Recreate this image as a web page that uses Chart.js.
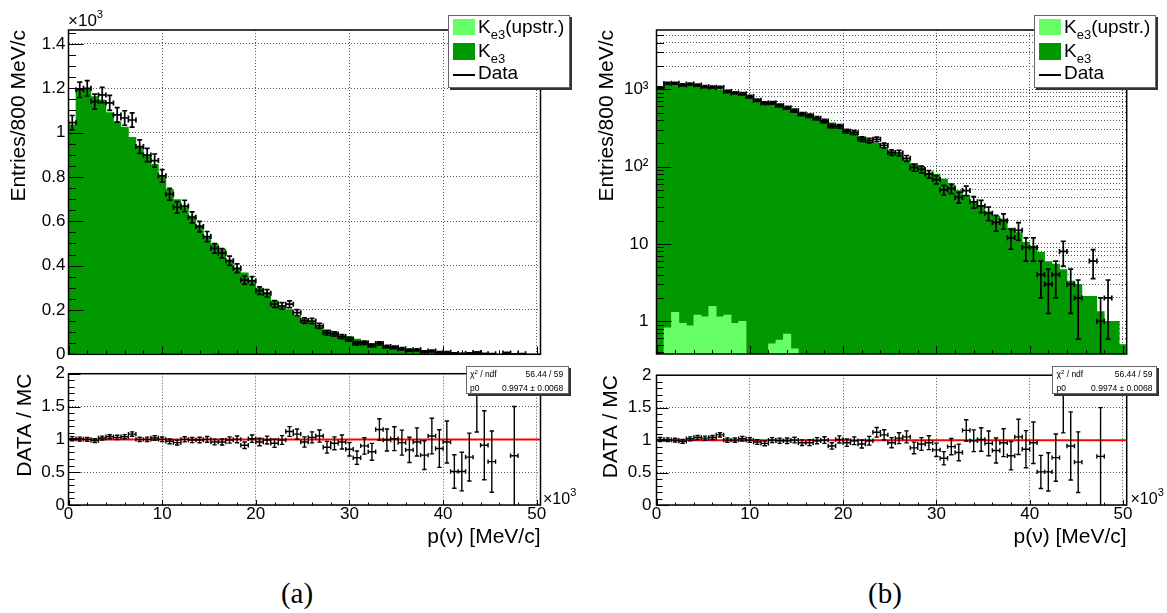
<!DOCTYPE html>
<html>
<head>
<meta charset="utf-8">
<title>p(nu) spectrum</title>
<script src="https://cdn.jsdelivr.net/npm/chart.js@4.4.1/dist/chart.umd.min.js"></script>
<style>
html,body{margin:0;padding:0;background:#fff;}
#page{position:relative;width:1167px;height:613px;overflow:hidden;font-family:"Liberation Sans",Arial,sans-serif;color:#000;}
canvas{position:absolute;}
.t{position:absolute;line-height:0;white-space:nowrap;color:#000;}
.box{position:absolute;background:#fff;border:1px solid #666;box-shadow:2px 2px 0 #333;box-sizing:border-box;}
.sw{position:absolute;}
.sub{font-size:13px;position:relative;top:6px;}
.sup{font-size:11px;position:relative;top:-8px;}
.ssup{font-size:6px;position:relative;top:-3px;}
</style>
</head>
<body>
<div id="page">
<canvas id="cATop" width="583" height="385" style="left:0px;top:0px"></canvas>
<canvas id="cARatio" width="583" height="200" style="left:0px;top:360px"></canvas>
<canvas id="cBTop" width="579" height="385" style="left:588px;top:0px"></canvas>
<canvas id="cBRatio" width="579" height="200" style="left:588px;top:360px"></canvas>
</div>
<script>
// ---------------- data ----------------
const binWidth = 0.8;            // x axis in units of 10^3 MeV/c
const nBins = 63;
const binCenters = Array.from({length: nBins}, (_, i) => Math.round((0.4 + binWidth * i) * 10) / 10);

const dataCounts = [1045,1193,1200,1140,1170,1134,1080,1066,1057,937,
  899,874,805,722,663,669,618,576,531,478,
  456,422,388,335,332,287,275,227,218,226,
  188,152,150,128,97,92,80,68,50,52,
  40,49,35,31,25,19,20,12,15,9,
  9,4,3,4,8,3,2,0,6,1,
  2,0,0];

const mcKe3 = [1035,1187,1200,1163,1147,1090,1049,1025,979,937,
  899,857,805,744,698,669,624,582,531,498,
  475,426,388,368,329,299,278,241,220,202,
  174,158,146,122,110,98,83,80,69,58,
  49,43,35,31,26,23,21,16,14,10.5,
  9.4,7.8,5.9,5.5,4.65,3.3,3.0,2.1,2.1,1.33,
  1.0,1.0,0.5];

const mcUpstream = [0,0.82,1.30,0.94,0.87,1.2,1.14,1.56,1.14,1.2,
  0.94,1.0,0,0,0,0.51,0.57,0.68,0.44,0,
  0,0,0,0,0,0,0,0,0,0,
  0,0,0,0,0,0,0,0,0,0,
  0,0,0,0,0,0,0,0,0,0,
  0,0,0,0,0,0,0,0,0,0,
  0,0,0];

const ratioValues = [1.01,1.005,1.0,0.98,1.02,1.04,1.03,1.04,1.08,1.0,
  1.0,1.02,1.0,0.97,0.95,1.0,0.99,0.99,1.0,0.96,
  0.96,0.99,1.0,0.91,1.01,0.96,0.99,0.94,0.99,1.12,
  1.08,0.96,1.03,1.05,0.88,0.94,0.96,0.85,0.72,0.90,
  0.81,1.15,0.99,1.01,0.95,0.84,0.96,0.76,1.05,0.86,
  0.96,0.51,0.51,0.73,1.72,0.91,0.66,null,null,0.75,
  null,null,null];

const fitP0 = 0.9974, fitP0Err = 0.0068, fitChi2 = 56.44, fitNdf = 59;
const legendLabels = ['K<span class="sub">e3</span>(upstr.)', 'K<span class="sub">e3</span>', 'Data'];
const xMin = 0, xMax = 50.4;
const yLinMax = 1463;
const yLogMin = 0.377, yLogMax = 5850;
const ratioMin = 0, ratioMax = 2;

const colUp = '#66ff66', colKe3 = '#009900';
const FONT = "'Liberation Sans', Arial, sans-serif";
Chart.defaults.font.family = FONT;
Chart.defaults.color = '#000';

// log ticks (1..9 x decades inside the range)
const logTickValues = [];
for (let e = -1; e <= 3; e++) for (let m = 1; m <= 9; m++) {
  const v = +(m * Math.pow(10, e)).toPrecision(2);
  if (v >= yLogMin && v <= yLogMax) logTickValues.push(v);
}
const logLabels = {1: '1', 10: '10', 100: '10\u00B2', 1000: '10\u00B3'};

// ---------------- plugin: error bars, inward ticks, frame ----------------
const rootStyle = {
  id: 'rootStyle',
  afterDatasetsDraw(chart) {
    const {ctx, chartArea: a, scales: {x, y}} = chart;
    ctx.save();
    ctx.beginPath();
    ctx.rect(a.left, a.top, a.right - a.left, a.bottom - a.top);
    ctx.clip();
    chart.data.datasets.forEach(ds => {
      if (!ds.errorBars) return;
      ctx.strokeStyle = '#000';
      ctx.lineWidth = ds.errW || 1.5;
      const cap = ds.cap || 2.5;
      ctx.beginPath();
      ds.data.forEach(p => {
        if (p.y == null || !(p.y > 0)) return;
        const xl = x.getPixelForValue(p.x - p.xe), xr = x.getPixelForValue(p.x + p.xe);
        const xc = x.getPixelForValue(p.x), yc = y.getPixelForValue(p.y);
        const lo = p.y - p.ye;
        const yl = lo > y.min ? y.getPixelForValue(lo) : a.bottom + 3;
        const yh = y.getPixelForValue(p.y + p.ye);
        ctx.moveTo(xl, yc); ctx.lineTo(xr, yc);
        ctx.moveTo(xl, yc - cap); ctx.lineTo(xl, yc + cap);
        ctx.moveTo(xr, yc - cap); ctx.lineTo(xr, yc + cap);
        ctx.moveTo(xc, yl); ctx.lineTo(xc, yh);
        ctx.moveTo(xc - cap, yl); ctx.lineTo(xc + cap, yl);
        ctx.moveTo(xc - cap, yh); ctx.lineTo(xc + cap, yh);
      });
      ctx.stroke();
    });
    ctx.restore();
  },
  afterDraw(chart) {
    const o = chart.options.plugins.rootStyle;
    const {ctx, chartArea: a, scales: {x, y}} = chart;
    ctx.save();
    ctx.strokeStyle = '#000';
    ctx.lineWidth = 1;
    ctx.beginPath();
    for (let k = 0; k * o.xMinor <= x.max + 1e-9; k++) {
      const v = k * o.xMinor;
      const px = Math.round(x.getPixelForValue(v)) + 0.5;
      const major = Math.abs(v / o.xMajor - Math.round(v / o.xMajor)) < 1e-6;
      const len = major ? o.xMajorLen : o.xMinorLen;
      ctx.moveTo(px, a.bottom); ctx.lineTo(px, a.bottom - len);
    }
    if (o.yLog) {
      logTickValues.forEach(v => {
        const py = Math.round(y.getPixelForValue(v)) + 0.5;
        const major = logLabels[v] !== undefined;
        const len = major ? o.yMajorLen : o.yMinorLen;
        ctx.moveTo(a.left, py); ctx.lineTo(a.left + len, py);
      });
    } else {
      for (let k = 0; y.min + k * o.yMinor <= y.max + 1e-9; k++) {
        const v = y.min + k * o.yMinor;
        const py = Math.round(y.getPixelForValue(v)) + 0.5;
        const major = Math.abs(v / o.yMajor - Math.round(v / o.yMajor)) < 1e-6;
        const len = major ? o.yMajorLen : o.yMinorLen;
        ctx.moveTo(a.left, py); ctx.lineTo(a.left + len, py);
      }
    }
    ctx.stroke();
    ctx.lineWidth = 1.5;
    ctx.strokeRect(a.left, a.top, a.right - a.left, a.bottom - a.top);
    ctx.restore();
  }
};

// ---------------- builders ----------------
function dataPoints() {
  return binCenters.map((c, i) => ({x: c, y: dataCounts[i] > 0 ? dataCounts[i] : null, xe: binWidth / 2, ye: Math.sqrt(dataCounts[i])}));
}
function histPoints(arr) {
  return binCenters.map((c, i) => ({x: c, y: arr[i] > 0 ? arr[i] : null}));
}
function ratioPoints() {
  return binCenters.map((c, i) => ({x: c, y: ratioValues[i], xe: binWidth / 2,
    ye: ratioValues[i] == null ? 0 : ratioValues[i] / Math.sqrt(dataCounts[i])}));
}
const gridCfg = {color: '#555', lineWidth: 1, drawTicks: false, offset: false};

function makeTop(id, logY, padRight, bottomPad, yLabelPad, titlePad) {
  const yScale = logY ? {
    type: 'logarithmic', min: yLogMin, max: yLogMax,
    afterBuildTicks: s => { s.ticks = logTickValues.map(v => ({value: v})); },
    ticks: {autoSkip: false, padding: yLabelPad, font: {size: 17}, color: '#000',
      callback: v => logLabels[v] !== undefined ? logLabels[v] : ''}
  } : {
    type: 'linear', min: 0, max: yLinMax,
    ticks: {stepSize: 200, includeBounds: false, padding: yLabelPad, font: {size: 17}, color: '#000',
      callback: v => String(+(v / 1000).toFixed(1))}
  };
  Object.assign(yScale, {
    grid: gridCfg, border: {display: false, dash: [1, 2]},
    title: {display: true, text: 'Entries/800 MeV/c', align: 'end', color: '#000', font: {size: 21}, padding: {top: titlePad, bottom: 0}},
    afterFit: s => { s.width = 68.5; }
  });
  return new Chart(document.getElementById(id), {
    type: 'bar',
    data: {datasets: [
      {type: 'scatter', label: 'Data', data: dataPoints(), pointRadius: 0, errorBars: true, errW: 1.7, cap: 2.5},
      {type: 'bar', label: 'Ke3(upstr.)', data: histPoints(mcUpstream), backgroundColor: colUp, borderWidth: 0, grouped: false, barPercentage: 1, categoryPercentage: 1},
      {type: 'bar', label: 'Ke3', data: histPoints(mcKe3), backgroundColor: colKe3, borderWidth: 0, grouped: false, barPercentage: 1, categoryPercentage: 1}
    ]},
    options: {
      responsive: false, animation: false, devicePixelRatio: 1,
      layout: {padding: {left: 0, top: 30, right: padRight, bottom: bottomPad}},
      plugins: {legend: {display: false}, tooltip: {enabled: false},
        rootStyle: {xMinor: 2, xMajor: 10, xMajorLen: 8, xMinorLen: 4, yLog: logY,
          yMinor: 50, yMajor: 200, yMajorLen: 15, yMinorLen: 7.5}},
      scales: {
        x: {type: 'linear', min: xMin, max: xMax, offset: false, grid: gridCfg, border: {display: false, dash: [1, 2]},
          ticks: {display: false, stepSize: 10, includeBounds: false},
          afterFit: s => { s.height = 0; }},
        y: yScale
      }
    },
    plugins: [rootStyle]
  });
}

function makeRatio(id, padRight, yLabelPad, titlePad) {
  return new Chart(document.getElementById(id), {
    type: 'scatter',
    data: {datasets: [
      {type: 'scatter', label: 'DATA / MC', data: ratioPoints(), pointRadius: 0, errorBars: true, errW: 1.4, cap: 2.2},
      {type: 'line', label: 'fit', data: [{x: xMin, y: fitP0}, {x: xMax, y: fitP0}], borderColor: '#ff0000', borderWidth: 2, pointRadius: 0, showLine: true}
    ]},
    options: {
      responsive: false, animation: false, devicePixelRatio: 1,
      layout: {padding: {left: 0, top: 13, right: padRight, bottom: 0}},
      plugins: {legend: {display: false}, tooltip: {enabled: false},
        rootStyle: {xMinor: 2, xMajor: 10, xMajorLen: 5, xMinorLen: 2.5, yLog: false,
          yMinor: 0.1, yMajor: 0.5, yMajorLen: 12, yMinorLen: 6}},
      scales: {
        x: {type: 'linear', min: xMin, max: xMax, offset: false, grid: gridCfg, border: {display: false, dash: [1, 2]},
          ticks: {stepSize: 10, includeBounds: false, padding: -1, font: {size: 17}, color: '#000', maxRotation: 0,
            callback: v => String(v)},
          title: {display: true, text: 'p(\u03BD) [MeV/c]', align: 'end', color: '#000', font: {size: 21}, padding: {top: 0, bottom: 10}},
          afterFit: s => { s.height = 55; }},
        y: {type: 'linear', min: ratioMin, max: ratioMax, grid: gridCfg, border: {display: false, dash: [1, 2]},
          ticks: {stepSize: 0.5, includeBounds: false, padding: yLabelPad, font: {size: 17}, color: '#000',
            callback: v => String(v)},
          title: {display: true, text: 'DATA / MC', align: 'end', color: '#000', font: {size: 21}, padding: {top: titlePad, bottom: 0}},
          afterFit: s => { s.width = 68.5; }}
      }
    },
    plugins: [rootStyle]
  });
}

makeTop('cATop', false, 42.5, 385 - 354.3, 3, 6.5);
makeRatio('cARatio', 42.5, 3.5, 13);
makeTop('cBTop', true, 40.3, 385 - 354, 8, 7);
makeRatio('cBRatio', 40.3, 5, 11);

// ---------------- overlays (legend, stats, exponents, panel labels) ----------------
const page = document.getElementById('page');
function el(cls, x, y, w, h, bg) {
  const d = document.createElement('div');
  d.className = cls;
  Object.assign(d.style, {left: x + 'px', top: y + 'px', width: w + 'px', height: h + 'px'});
  if (bg) d.style.background = bg;
  page.appendChild(d);
  return d;
}
function text(html, x, base, size, align, family, k) {
  const d = document.createElement('div');
  d.className = 't';
  d.innerHTML = html;
  const f = k || 0.3465;
  d.style.left = x + 'px';
  d.style.top = (base - f * size) + 'px';
  d.style.fontSize = size + 'px';
  if (family) d.style.fontFamily = family;
  if (align === 'right') d.style.transform = 'translateX(-100%)';
  if (align === 'center') d.style.transform = 'translateX(-50%)';
  page.appendChild(d);
  return d;
}
function legend(lx) {
  el('box', lx, 15, 122, 73);
  el('sw', lx + 5, 19, 22, 16, colUp);
  text(legendLabels[0], lx + 30, 33.3, 19);
  el('sw', lx + 5, 43, 22, 17, colKe3);
  text(legendLabels[1], lx + 30, 57.3, 19);
  el('sw', lx + 5, 74, 22, 1.6, '#000');
  text(legendLabels[2], lx + 30, 80, 19);
}
function stats(bx, bw, tl, tr) {
  el('box', bx, 366, bw, 28);
  text('\u03C7<span class="ssup">2</span> / ndf', tl, 376.6, 8.5);
  text(fitChi2.toFixed(2) + ' / ' + fitNdf, tr, 376.6, 8.5, 'right');
  text('p0', tl, 390.7, 8.5);
  text(fitP0.toFixed(4) + ' \u00B1 ' + fitP0Err.toFixed(4), tr, 390.7, 8.5, 'right');
}
legend(448);
legend(1034);
stats(465.7, 103.6, 470, 563.3);
stats(1051.7, 105, 1056.5, 1152.5);
text('\u00D710<span class="sup">3</span>', 68, 27, 17);
text('\u00D710<span class="sup">3</span>', 543, 504.5, 16);
text('\u00D710<span class="sup">3</span>', 1130.5, 504.5, 16);
const SERIF = "'Liberation Serif', 'DejaVu Serif', serif";
text('(a)', 297, 602.5, 29, 'center', SERIF, 0.3375);
text('(b)', 885, 602.5, 29, 'center', SERIF, 0.3375);
</script>
</body>
</html>
